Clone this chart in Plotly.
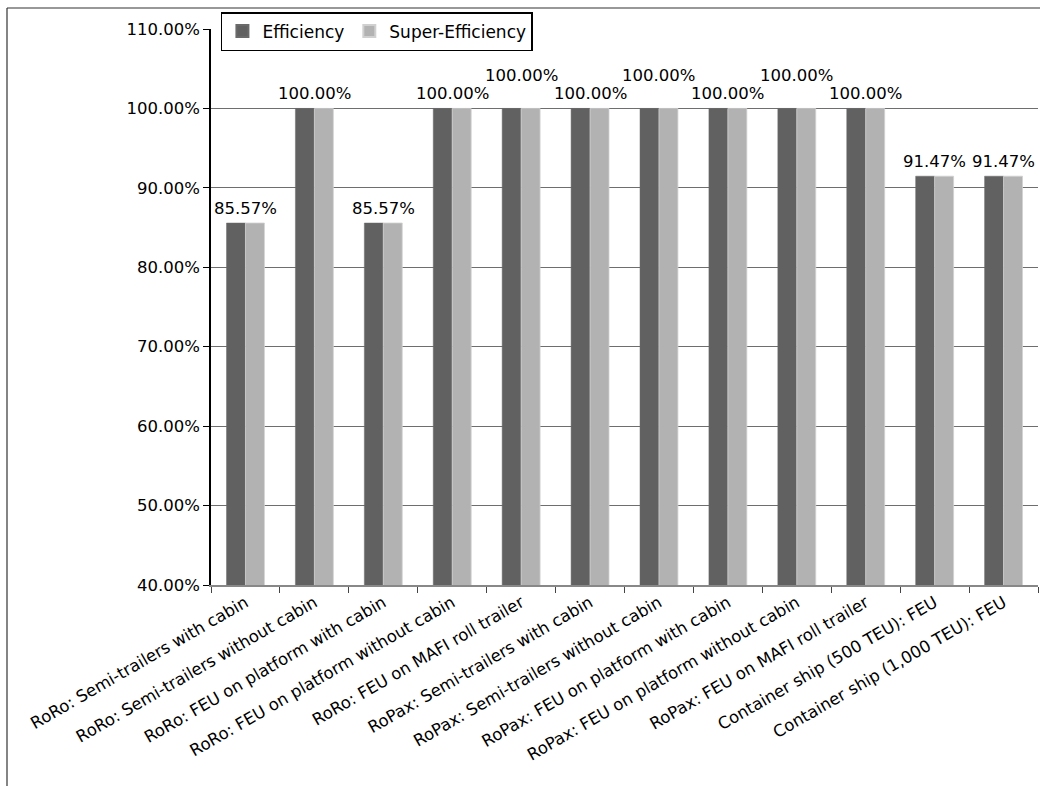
import plotly.graph_objects as go

categories = [
    "RoRo: Semi-trailers with cabin",
    "RoRo: Semi-trailers without cabin",
    "RoRo: FEU on platform with cabin",
    "RoRo: FEU on platform without cabin",
    "RoRo: FEU on MAFI roll trailer",
    "RoPax: Semi-trailers with cabin",
    "RoPax: Semi-trailers without cabin",
    "RoPax: FEU on platform with cabin",
    "RoPax: FEU on platform without cabin",
    "RoPax: FEU on MAFI roll trailer",
    "Container ship (500 TEU): FEU",
    "Container ship (1,000 TEU): FEU",
]
efficiency = [85.57, 100.00, 85.57, 100.00, 100.00, 100.00, 100.00, 100.00, 100.00, 100.00, 91.47, 91.47]
super_efficiency = [85.57, 100.00, 85.57, 100.00, 100.00, 100.00, 100.00, 100.00, 100.00, 100.00, 91.47, 91.47]
label_raised = [False, False, False, False, True, False, True, False, True, False, False, False]
y_ticks = [40, 50, 60, 70, 80, 90, 100, 110]

FONT = "DejaVu Sans"
fig = go.Figure()
fig.add_trace(go.Bar(x=categories, y=efficiency, name="Efficiency",
                     marker=dict(color="#616161", line=dict(color="#6a6a6a", width=0.5))))
fig.add_trace(go.Bar(x=categories, y=super_efficiency, name="Super-Efficiency",
                     marker=dict(color="#b2b2b2", line=dict(color="#d0d0d0", width=0.8))))

for c, v, r in zip(categories, efficiency, label_raised):
    fig.add_annotation(x=c, y=v, text=f"{v:.2f}%", showarrow=False,
                       yanchor="bottom", yshift=21 if r else 3,
                       font=dict(family=FONT, size=16.5, color="#000"))

L, R, T, B = 211, 10, 29, 201
W, H = 1048, 786
pw = W - L - R
ph = H - T - B

# outer chart border (left and top)
fig.add_shape(type="line", xref="paper", yref="paper",
              x0=(7 - L) / pw, x1=(1040 - L) / pw, y0=(H - B - 8) / ph, y1=(H - B - 8) / ph,
              line=dict(color="#333", width=1.2))
fig.add_shape(type="line", xref="paper", yref="paper",
              x0=(7 - L) / pw, x1=(7 - L) / pw, y0=(H - B - 8) / ph, y1=(H - B - 790) / ph,
              line=dict(color="#333", width=1.2))

fig.update_layout(
    width=W, height=H,
    margin=dict(l=L, r=R, t=T, b=B),
    paper_bgcolor="white", plot_bgcolor="white",
    barmode="group", bargap=0.45, bargroupgap=0,
    font=dict(family=FONT, size=16, color="#000"),
    showlegend=True,
    legend=dict(orientation="h", x=0.012, y=(H - B - 12) / ph, xanchor="left", yanchor="top",
                bgcolor="white", bordercolor="#000", borderwidth=1.5,
                font=dict(family=FONT, size=17), itemsizing="constant",
                itemwidth=30, tracegroupgap=0),
    xaxis=dict(showline=True, linecolor="#888", linewidth=1.5, ticks="outside",
               tickcolor="#444", ticklen=6, tickson="boundaries", tickangle=-30,
               tickfont=dict(family=FONT, size=16.5), showgrid=False),
    yaxis=dict(range=[40, 110], tickvals=y_ticks,
               ticktext=[f"{t:.2f}%" for t in y_ticks],
               showline=True, linecolor="#000", linewidth=1.5,
               ticks="outside", ticklen=6, tickcolor="#000",
               showgrid=True, gridcolor="#6e6e6e", gridwidth=1,
               tickfont=dict(family=FONT, size=16.5), zeroline=False),
)

fig.write_html("out.html")
